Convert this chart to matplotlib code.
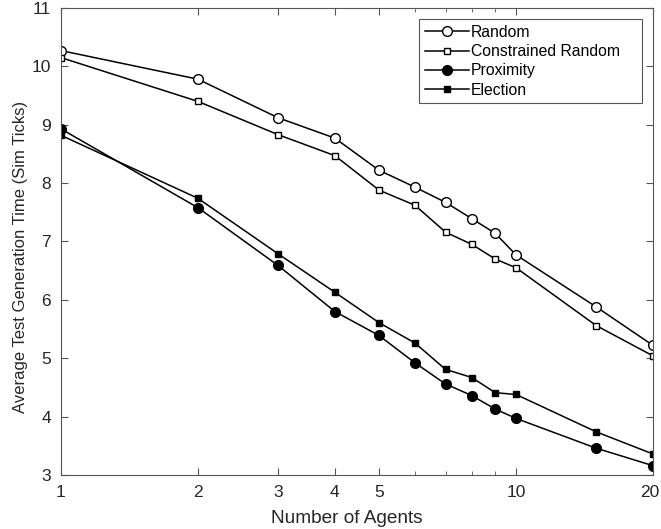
import matplotlib
matplotlib.use("Agg")
import matplotlib.pyplot as plt
import matplotlib.transforms as mtransforms

plt.rcParams['font.family'] = ['Liberation Sans', 'DejaVu Sans']

agents = [1, 2, 3, 4, 5, 6, 7, 8, 9, 10, 15, 20]
random_t = [10.27, 9.78, 9.12, 8.77, 8.22, 7.93, 7.67, 7.39, 7.14, 6.77, 5.88, 5.22]
constrained_t = [10.15, 9.40, 8.83, 8.47, 7.88, 7.62, 7.16, 6.95, 6.70, 6.55, 5.56, 5.04]
proximity_t = [8.93, 7.58, 6.59, 5.80, 5.39, 4.92, 4.56, 4.36, 4.13, 3.97, 3.46, 3.16]
election_t = [8.82, 7.74, 6.79, 6.13, 5.61, 5.26, 4.81, 4.67, 4.41, 4.38, 3.74, 3.36]

xticks = [1, 2, 3, 4, 5, 10, 20]
minor_xticks = [6, 7, 8, 9]

fig = plt.figure(figsize=(6.61, 5.29), dpi=100)
ax = fig.add_axes([0.092, 0.102, 0.896, 0.883])

ax.plot(agents, random_t, '-o', color='k', mfc='white', mec='k', ms=7, lw=1.1, label='Random')
ax.plot(agents, constrained_t, '-s', color='k', mfc='white', mec='k', ms=4.8, lw=1.1, label='Constrained Random')
ax.plot(agents, proximity_t, '-o', color='k', mfc='k', ms=7, lw=1.1, label='Proximity')
ax.plot(agents, election_t, '-s', color='k', mfc='k', ms=5, lw=1.1, label='Election')

ax.set_xscale('log')
ax.set_xlim(1, 20)
ax.set_ylim(3, 11)
ax.set_xticks(xticks)
ax.set_xticklabels([str(t) for t in xticks])
ax.set_xticks(minor_xticks, minor=True)
ax.set_xticklabels([], minor=True)
ax.set_yticks(range(3, 12))

for s in ax.spines.values():
    s.set_color('#555555')
ax.tick_params(which='both', direction='in', top=True, right=True, colors='#555555',
               labelcolor='#262626', labelsize=12.5)
ax.tick_params(which='major', length=5)
ax.tick_params(which='minor', length=3)
ax.tick_params(axis='y', pad=7)
ax.tick_params(axis='x', pad=7)

# nudge the last x label so it is not cut by the figure edge
last = ax.get_xticklabels()[-1]
last.set_transform(last.get_transform() + mtransforms.ScaledTranslation(-3 / 100, 0, fig.dpi_scale_trans))

ax.set_xlabel('Number of Agents', fontsize=13.7, color='#262626')
ax.set_ylabel('Average Test Generation Time (Sim Ticks)', fontsize=12, color='#262626')
ax.xaxis.set_label_coords(0.482, -0.0745)
ax.yaxis.set_label_coords(-0.0557, 0.467)

leg = ax.legend(loc='upper left', bbox_to_anchor=(0.605, 0.801, 0.376, 0.175), mode='expand',
                borderaxespad=0, fontsize=11.3, fancybox=False, edgecolor='#555555',
                framealpha=1, handlelength=2.8, labelspacing=0.28,
                borderpad=0.35, handletextpad=0.15)
leg.get_frame().set_linewidth(0.8)

fig.savefig('out.png', dpi=100)
